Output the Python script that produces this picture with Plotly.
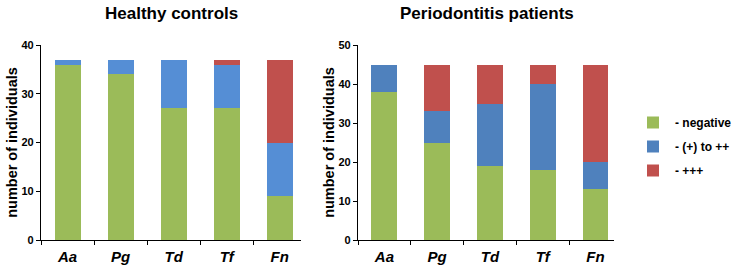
import plotly.graph_objects as go

categories = ["Aa", "Pg", "Td", "Tf", "Fn"]
series_names = ["- negative", "- (+) to ++", "- +++"]

healthy_negative = [36, 34, 27, 27, 9]
healthy_mid = [1, 3, 10, 9, 11]
healthy_high = [0, 0, 0, 1, 17]

perio_negative = [38, 25, 19, 18, 13]
perio_mid = [7, 8, 16, 22, 7]
perio_high = [0, 12, 10, 5, 25]

green = "#9BBB59"
blue_left = "#558ED5"
blue_right = "#4F81BD"
red = "#C0504D"

fig = go.Figure()
left = [healthy_negative, healthy_mid, healthy_high]
right = [perio_negative, perio_mid, perio_high]
cols_left = [green, blue_left, red]
cols_right = [green, blue_right, red]
for i, name in enumerate(series_names):
    fig.add_trace(go.Bar(x=categories, y=left[i], name=name, marker_color=cols_left[i],
                         marker_line_width=0, width=0.49, xaxis="x", yaxis="y",
                         legendgroup=name, showlegend=False))
for i, name in enumerate(series_names):
    fig.add_trace(go.Bar(x=categories, y=right[i], name=name, marker_color=cols_right[i],
                         marker_line_width=0, width=0.49, xaxis="x2", yaxis="y2",
                         legendgroup=name, showlegend=True))

W, H = 737, 267
def fx(px):
    return px / W
def fy(py):
    return 1 - py / H

axis_common = dict(showline=True, linecolor="black", linewidth=1.3, showgrid=False,
                   zeroline=False, ticks="outside", tickcolor="black", ticklen=4,
                   automargin=False)
xaxis_common = dict(axis_common, type="category", tickson="boundaries",
                    ticklabelstandoff=3,
                    tickfont=dict(family="Liberation Sans", size=15, color="black",
                                  weight="bold", style="italic"))
yaxis_common = dict(axis_common, tickfont=dict(family="Liberation Sans", size=11,
                                               color="black", weight="bold"),
                    title=dict(text="number of individuals",
                               font=dict(family="Liberation Sans", size=14.5,
                                         color="black", weight="bold"),
                               standoff=0))

fig.update_layout(
    width=W, height=H,
    margin=dict(l=0, r=0, t=0, b=0, autoexpand=False),
    paper_bgcolor="white", plot_bgcolor="white",
    barmode="stack",
    xaxis=dict(xaxis_common, domain=[fx(41), fx(301)], range=[-0.5, 4.4], anchor="y"),
    yaxis=dict(yaxis_common, domain=[fy(240), fy(45)], range=[0, 40], dtick=10, anchor="x"),
    xaxis2=dict(xaxis_common, domain=[fx(358), fx(614)], range=[-0.5, 4.35], anchor="y2"),
    yaxis2=dict(yaxis_common, domain=[fy(240), fy(45)], range=[0, 50], dtick=10, anchor="x2"),
    legend=dict(x=fx(631), y=fy(108), xanchor="left", yanchor="top", itemwidth=34,
                font=dict(family="Liberation Sans", size=12, color="black", weight="bold"),
                tracegroupgap=5, bgcolor="rgba(0,0,0,0)"),
    annotations=[
        dict(text="Healthy controls", x=fx(171), y=fy(13), xref="paper", yref="paper",
             xanchor="center", yanchor="middle", showarrow=False,
             font=dict(family="Liberation Sans", size=17, color="black", weight="bold")),
        dict(text="Periodontitis patients", x=fx(487), y=fy(13), xref="paper", yref="paper",
             xanchor="center", yanchor="middle", showarrow=False,
             font=dict(family="Liberation Sans", size=17, color="black", weight="bold")),
    ],
)

fig.write_html("out.html", config={"displayModeBar": False},
               post_script="document.body.style.margin='0px';")
